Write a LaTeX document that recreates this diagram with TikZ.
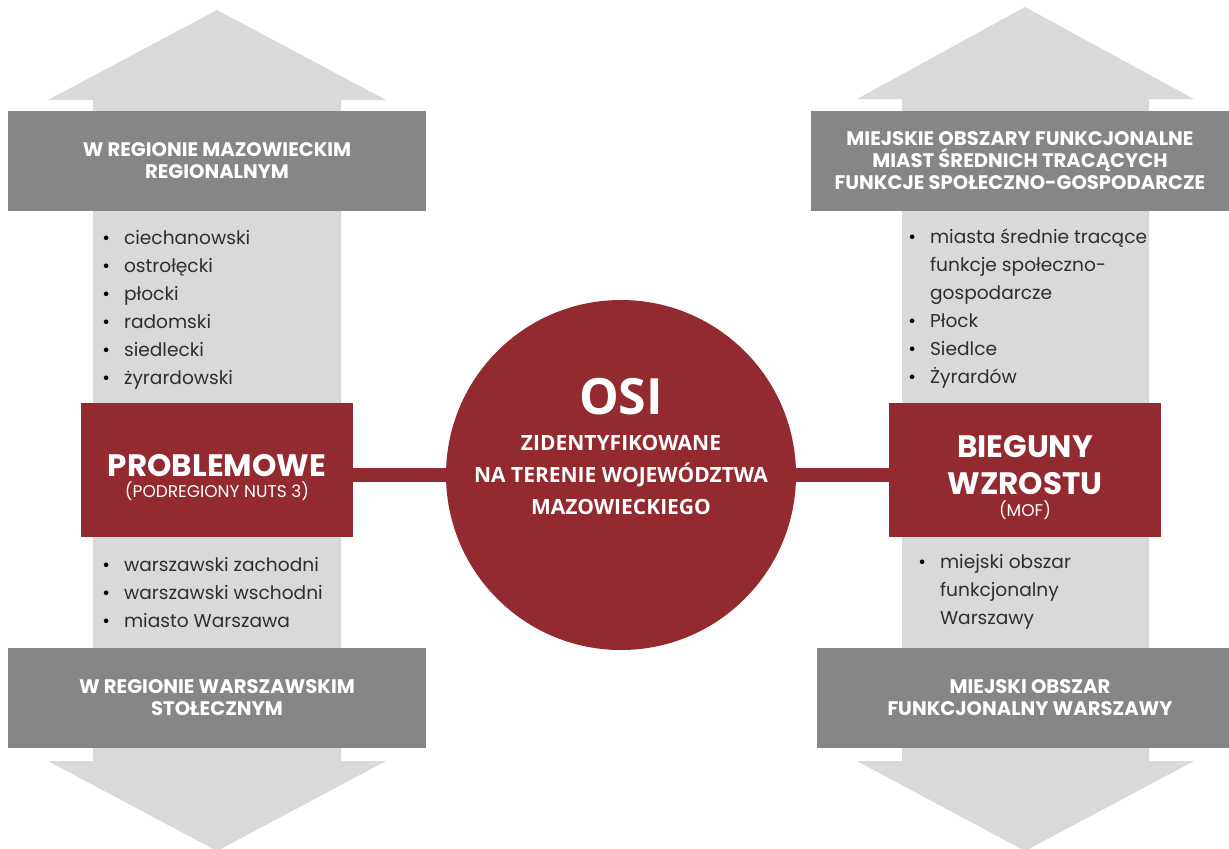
\documentclass[tikz,border=0pt]{standalone}
\usepackage{fontspec}
\setmainfont{Poppins}
\newfontfamily\osifont{Open Sans}
\usetikzlibrary{calc}

\definecolor{arrowgray}{HTML}{D9D9D9}
\definecolor{boxgray}{HTML}{868688}
\definecolor{osired}{HTML}{922A2F}
\definecolor{listtext}{HTML}{2E2E2E}

\tikzset{
  graybox/.style={fill=boxgray, text=white, minimum width=209pt, minimum height=50pt, inner sep=0pt, align=center, font=\fontsize{9.8}{11}\selectfont\bfseries},
  redbox/.style={fill=osired, minimum width=136pt, minimum height=67pt, inner sep=0pt},
  redtext/.style={text=white, inner sep=0pt, align=center, yshift=-3.75pt, font=\fontsize{15.5}{18.5}\selectfont},
  bullets/.style={anchor=west, align=left, text=listtext, inner sep=0pt, font=\fontsize{9.3}{14}\selectfont},
  link/.style={osired, line width=7pt},
}
\newcommand\bul{{\color{black}\textbullet}\hspace{7pt}}
\newcommand\nobul{\hphantom{\textbullet\hspace{7pt}}}
\newcommand\bigred[1]{{\bfseries #1}}
\newcommand\smallred[1]{{\fontsize{8.5}{10}\selectfont #1}}

\begin{document}
\begin{tikzpicture}[x=0.5pt,y=-0.5pt]

\useasboundingbox (0,0) rectangle (1229,848);
\clip (0,0) rectangle (1229,848);

\fill[arrowgray] (217,10) -- (386,100) -- (341,100) -- (341,761) -- (386,761) -- (217,851) -- (48,761) -- (93,761) -- (93,100) -- (48,100) -- cycle;
\fill[arrowgray] (1025,7) -- (1194,99) -- (1149,99) -- (1149,761) -- (1194,761) -- (1025,851) -- (857,761) -- (902,761) -- (902,99) -- (857,99) -- cycle;

\node[graybox] (mazowiecki) at (217,161) {W REGIONIE MAZOWIECKIM\\REGIONALNYM};
\node[graybox] (warszawski) at (217,698) {W REGIONIE WARSZAWSKIM\\STOŁECZNYM};
\node[graybox] (mofsrednie) at (1020,161) {MIEJSKIE OBSZARY FUNKCJONALNE\\MIAST ŚREDNICH TRACĄCYCH\\FUNKCJE SPOŁECZNO-GOSPODARCZE};
\node[graybox, minimum width=213pt] (mofwarszawa) at (1030,698) {MIEJSKI OBSZAR\\FUNKCJONALNY WARSZAWY};

\node[bullets] (podregiony) at (102,310) {\bul ciechanowski\\ \bul ostrołęcki\\ \bul płocki\\ \bul radomski\\ \bul siedlecki\\ \bul żyrardowski};
\node[bullets] (stoleczne) at (102,592) {\bul warszawski zachodni\\ \bul warszawski wschodni\\ \bul miasto Warszawa};
\node[bullets] (miasta) at (908,309) {\bul miasta średnie tracące\\ \nobul funkcje społeczno-\\ \nobul gospodarcze\\ \bul Płock\\ \bul Siedlce\\ \bul Żyrardów};
\node[bullets] (obszar) at (918,592) {\bul miejski obszar\\ \nobul funkcjonalny\\ \nobul Warszawy};

\node[redbox] (problemowe) at (217,470) {};
\node[redtext] (problemowetxt) at (problemowe) {\bigred{PROBLEMOWE}\\[-8pt]\smallred{(PODREGIONY NUTS 3)}};
\node[redbox] (bieguny) at (1025,470) {};
\node[redtext] (biegunytxt) at (bieguny) {\bigred{BIEGUNY}\\\bigred{WZROSTU}\\[-7.5pt]\smallred{(MOF)}};

\node[circle, fill=osired, minimum size=175pt, inner sep=0pt] (osi) at (621,475) {};
\node[text=white, align=center, font=\osifont\fontsize{10.5}{16}\selectfont\bfseries] (osilabel) at (621,446) {{\fontsize{25}{26}\selectfont OSI}\\[2pt]ZIDENTYFIKOWANE\\NA TERENIE WOJEWÓDZTWA\\MAZOWIECKIEGO};

\draw[link] (problemowe.east |- osi.center) -- (osi);
\draw[link] (osi) -- (bieguny.west |- osi.center);

\end{tikzpicture}
\end{document}
